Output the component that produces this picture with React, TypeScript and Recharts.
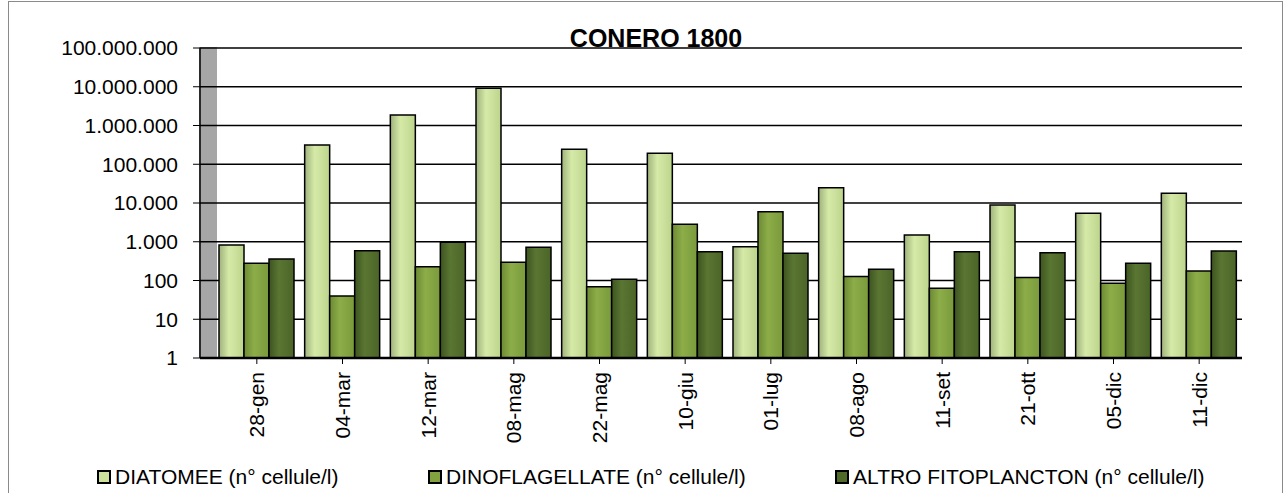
import { BarChart, Bar, XAxis, YAxis, CartesianGrid, Legend } from 'recharts'

const dates = ['28-gen', '04-mar', '12-mar', '08-mag', '22-mag', '10-giu', '01-lug', '08-ago', '11-set', '21-ott', '05-dic', '11-dic']
const diatomee = [820, 314000, 1870000, 9100000, 243000, 191000, 745, 24800, 1490, 8900, 5400, 17800]
const dinoflagellate = [278, 40, 227, 295, 69, 2830, 5960, 126, 63, 120, 85, 176]
const altroFito = [359, 588, 968, 719, 107, 554, 503, 194, 554, 523, 277, 576]
const yTicks = [1, 10, 100, 1000, 10000, 100000, 1000000, 10000000, 100000000]

const data = dates.map((d, i) => ({
  date: d,
  diat: diatomee[i],
  dino: dinoflagellate[i],
  altro: altroFito[i],
}))

const FONT = '"Liberation Sans", Arial, Helvetica, sans-serif'

const fmt = (v: number) => String(v).replace(/\B(?=(\d{3})+(?!\d))/g, '.')

const series = [
  { key: 'diat', name: 'DIATOMEE (n° cellule/l)', fill: '#cde39b', grad: 'gDiat', left: 97 },
  { key: 'dino', name: 'DINOFLAGELLATE (n° cellule/l)', fill: '#82a23f', grad: 'gDino', left: 428 },
  { key: 'altro', name: 'ALTRO FITOPLANCTON (n° cellule/l)', fill: '#506a2a', grad: 'gAltro', left: 835 },
]

function DateTick(props: any) {
  const { x, y, payload } = props
  return (
    <g transform={`translate(${x},${y})`}>
      <text
        transform="rotate(-90)"
        x={-6}
        y={0}
        dy="0.35em"
        textAnchor="end"
        fill="#000"
        fontSize={21}
        fontFamily={FONT}
      >
        {payload.value}
      </text>
    </g>
  )
}

function LegendBox() {
  return (
    <div style={{ position: 'relative', height: 40, fontFamily: FONT, fontSize: 21, color: '#000' }}>
      {series.map((s) => (
        <div
          key={s.key}
          style={{ position: 'absolute', left: s.left, top: 12, display: 'flex', alignItems: 'center', whiteSpace: 'nowrap', lineHeight: '24px' }}
        >
          <span style={{ display: 'inline-block', width: 10, height: 10, border: '2px solid #000', background: s.fill, marginRight: 4 }} />
          {s.name}
        </div>
      ))}
    </div>
  )
}

export default function App() {
  return (
    <div style={{ position: 'relative', width: 1284, height: 493, background: '#fff', overflow: 'hidden' }}>
      <style>{'body{margin:0}'}</style>
      <div style={{ position: 'absolute', left: 8, top: 1, width: 1273, height: 520, border: '1px solid #8a8a8a' }} />
      <div style={{ position: 'absolute', left: 199, top: 47, width: 18, height: 311, background: '#a6a6a6' }} />
      <div
        style={{
          position: 'absolute', left: 0, width: 1284, top: 26, textAlign: 'center',
          fontFamily: FONT, fontWeight: 'bold', fontSize: 25, lineHeight: '24px', paddingLeft: 14, zIndex: 2,
        }}
      >
        CONERO 1800
      </div>
      <div style={{ position: 'absolute', left: 0, top: 0 }}>
        <BarChart
          width={1284}
          height={493}
          data={data}
          margin={{ top: 48, right: 42, bottom: 0, left: 0 }}
          barCategoryGap={6}
          barGap={0}
        >
          <defs>
            <linearGradient id="gDiat" x1="0" y1="0" x2="1" y2="0">
              <stop offset="0%" stopColor="#9fb27c" />
              <stop offset="40%" stopColor="#d6eaa8" />
              <stop offset="100%" stopColor="#bcd48c" />
            </linearGradient>
            <linearGradient id="gDino" x1="0" y1="0" x2="1" y2="0">
              <stop offset="0%" stopColor="#6c8a34" />
              <stop offset="40%" stopColor="#8cad48" />
              <stop offset="100%" stopColor="#7a9a3c" />
            </linearGradient>
            <linearGradient id="gAltro" x1="0" y1="0" x2="1" y2="0">
              <stop offset="0%" stopColor="#3d5420" />
              <stop offset="40%" stopColor="#5a7632" />
              <stop offset="100%" stopColor="#4b6428" />
            </linearGradient>
          </defs>
          <CartesianGrid vertical={false} stroke="#000" strokeWidth={1.5} />
          <XAxis
            dataKey="date"
            height={95}
            interval={0}
            padding={{ left: 14, right: 0 }}
            tick={<DateTick />}
            tickSize={6}
            tickLine={{ stroke: '#000' }}
            axisLine={{ stroke: '#000', strokeWidth: 2.5 }}
          />
          <YAxis
            scale="log"
            domain={[1, 100000000]}
            ticks={yTicks}
            allowDataOverflow
            width={200}
            tickSize={7}
            tickMargin={15}
            tickFormatter={fmt}
            tick={{ fill: '#000', fontSize: 21, fontFamily: FONT }}
            tickLine={{ stroke: '#000' }}
            axisLine={{ stroke: '#000', strokeWidth: 1.5 }}
          />
          <Legend verticalAlign="bottom" height={40} content={<LegendBox />} />
          {series.map((s) => (
            <Bar
              key={s.key}
              dataKey={s.key}
              name={s.name}
              fill={`url(#${s.grad})`}
              stroke="#000"
              strokeWidth={1.5}
              barSize={25}
              isAnimationActive={false}
            />
          ))}
        </BarChart>
      </div>
    </div>
  )
}
